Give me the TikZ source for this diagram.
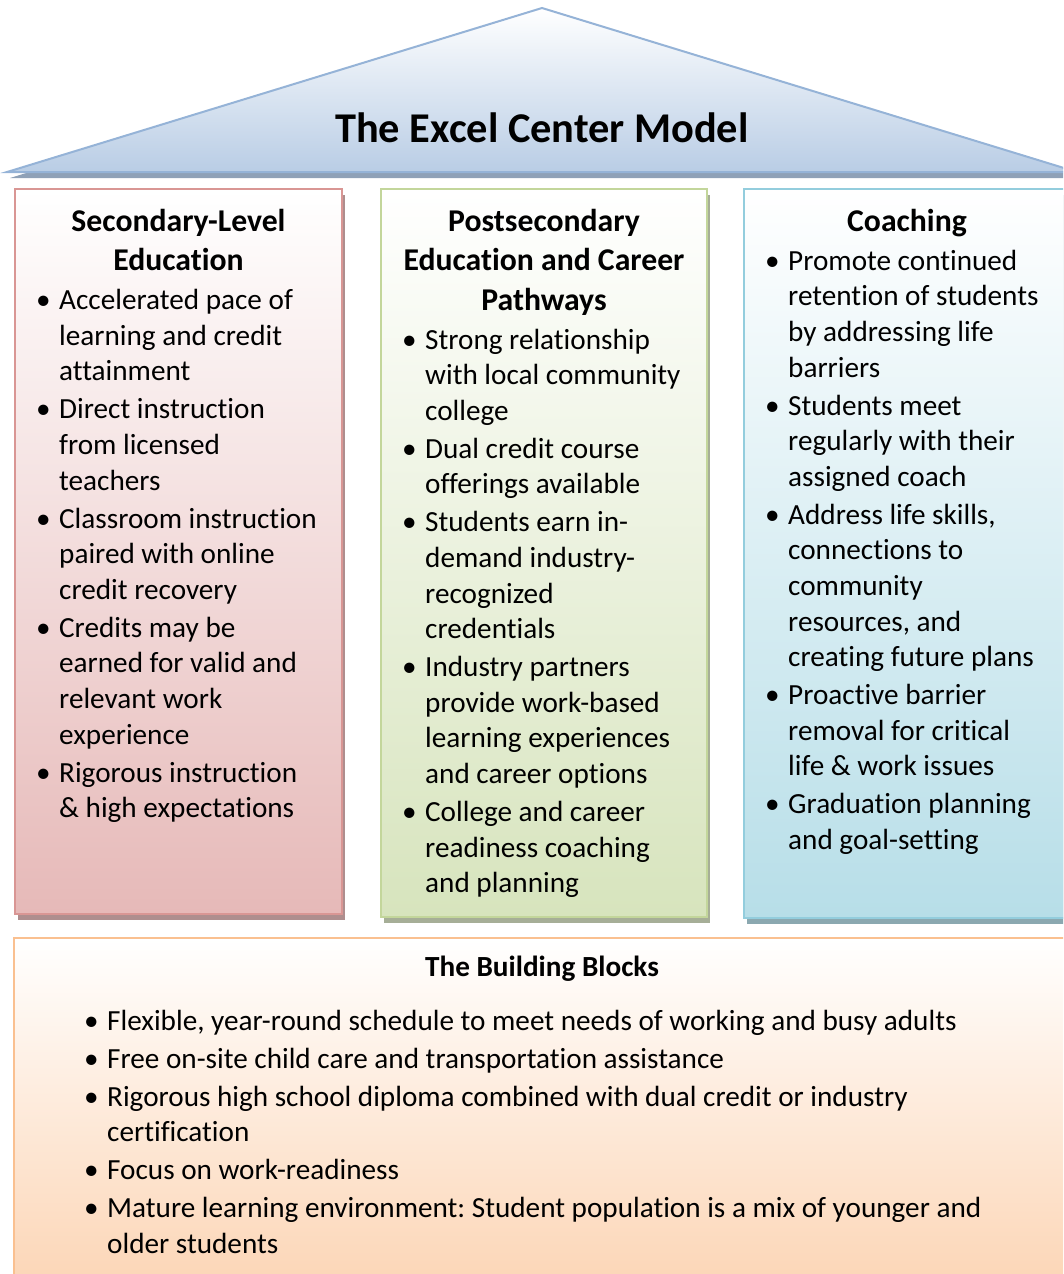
\documentclass[tikz,border=0pt]{standalone}
\usepackage{fontspec}
\setmainfont{Carlito}[Ligatures=NoCommon]
\usepackage{xcolor}
\usepackage{tikz}
\usetikzlibrary{positioning}
\usetikzlibrary{shadows}
\frenchspacing

\definecolor{roofblue}{HTML}{B9CDE5}
\definecolor{roofline}{HTML}{95B3D7}
\definecolor{roofshade}{HTML}{8FA1B7}
\definecolor{secfill}{HTML}{E6B9B8}
\definecolor{secline}{HTML}{D99694}
\definecolor{secshade}{HTML}{AE8E8E}
\definecolor{postfill}{HTML}{D7E4BD}
\definecolor{postline}{HTML}{C3D69B}
\definecolor{postshade}{HTML}{A6AE97}
\definecolor{coachfill}{HTML}{B7DEE8}
\definecolor{coachline}{HTML}{93CDDD}
\definecolor{coachshade}{HTML}{8BA8B0}
\definecolor{blockfill}{HTML}{FCD5B5}
\definecolor{blockline}{HTML}{FAC090}

\newcommand{\bul}[1]{\par\hangindent=23pt\hangafter=1\noindent
    \rule{0pt}{25pt}\makebox[23pt][l]{\textbullet}#1}

\begin{document}
\begin{tikzpicture}[x=1pt, y=-1pt,
        pillar/.style={rectangle, draw=#1line, line width=2pt,
            top color=white, bottom color=#1fill, inner sep=0pt,
            drop shadow={shadow xshift=3pt, shadow yshift=-6pt,
                fill=#1shade, opacity=1}},
        block/.style={rectangle, draw=blockline, line width=2pt,
            top color=white, bottom color=blockfill, inner sep=0pt},
        headtext/.style={align=center, inner sep=0pt,
            font=\bfseries\fontsize{31.7}{39.4}\selectfont},
        blockhead/.style={align=center, inner sep=0pt,
            font=\bfseries\fontsize{29.2}{35.6}\selectfont},
        listtext/.style={align=flush left, text width=#1, inner sep=0pt,
            font=\fontsize{29.2}{35.6}\selectfont}]

        \useasboundingbox (0,0) rectangle (1063,1274);
        \clip (0,0) rectangle (1063,1274);

        % roof
        \coordinate (roofL) at (7,172);
        \coordinate (roofT) at (542,8);
        \coordinate (roofR) at (1077,172);

        \fill[roofshade]
        ([xshift=3pt, yshift=-6pt]roofL) -- ([xshift=3pt, yshift=-6pt]roofT)
        -- ([xshift=3pt, yshift=-6pt]roofR) -- cycle;

        \path[draw=roofline, line width=2pt, top color=white, bottom color=roofblue]
        (roofL) -- (roofT) -- (roofR) -- cycle;

        \node[anchor=base, inner sep=0pt,
            font=\bfseries\fontsize{42.4}{50}\selectfont]
        (title) at (542,142) {The Excel Center Model};

        % pillars
        \node[pillar=sec, minimum width=327pt, minimum height=725pt]
        (sec) at (178.5,551.5) {};

        \node[pillar=post, minimum width=326pt, minimum height=728pt]
        (post) at (544,553) {};

        \node[pillar=coach, minimum width=326pt, minimum height=729pt]
        (coach) at (907,553.5) {};

        \node[headtext, below=13pt of sec.north] (secH)
        {\rule{0pt}{30pt}Secondary-Level\\Education};

        \node[headtext, below=13pt of post.north] (postH)
        {\rule{0pt}{30pt}Postsecondary\\Education and Career\\Pathways};

        \node[headtext, below=13pt of coach.north] (coachH)
        {\rule{0pt}{30pt}Coaching};

        \node[listtext=330pt, below right=83.4pt and 22pt of sec.north west] (secL)
        {\setlength{\parskip}{2.4pt}%
            \bul{Accelerated pace of\newline learning and credit\newline attainment}
            \bul{Direct instruction\newline from licensed\newline teachers}
            \bul{Classroom instruction\newline paired with online\newline credit recovery}
            \bul{Credits may be\newline earned for valid and\newline relevant work\newline experience}
            \bul{Rigorous instruction\newline \& high expectations}\par};

        \node[listtext=330pt, below right=122.8pt and 22pt of post.north west] (postL)
        {\setlength{\parskip}{2.4pt}%
            \bul{Strong relationship\newline with local community\newline college}
            \bul{Dual credit course\newline offerings available}
            \bul{Students earn in-\newline demand industry-\newline recognized\newline credentials}
            \bul{Industry partners\newline provide work-based\newline learning experiences\newline and career options}
            \bul{College and career\newline readiness coaching\newline and planning}\par};

        \node[listtext=330pt, below right=44pt and 22pt of coach.north west] (coachL)
        {\setlength{\parskip}{2.4pt}%
            \bul{Promote continued\newline retention of students\newline by addressing life\newline barriers}
            \bul{Students meet\newline regularly with their\newline assigned coach}
            \bul{Address life skills,\newline connections to\newline community\newline resources, and\newline creating future plans}
            \bul{Proactive barrier\newline removal for critical\newline life \& work issues}
            \bul{Graduation planning\newline and goal-setting}\par};

        % building blocks
        \node[block, minimum width=1056pt, minimum height=352pt]
        (blocks) at (542,1114) {};

        \node[blockhead, below=9pt of blocks.north] (blocksH)
        {\rule{0pt}{30pt}The Building Blocks};

        \node[listtext=1000pt, below right=55pt and 71pt of blocks.north west] (blocksL)
        {\setlength{\parskip}{2.4pt}%
            \bul{Flexible, year-round schedule to meet needs of working and busy adults}
            \bul{Free on-site child care and transportation assistance}
            \bul{Rigorous high school diploma combined with dual credit or industry\newline certification}
            \bul{Focus on work-readiness}
            \bul{Mature learning environment: Student population is a mix of younger and\newline older students}\par};
\end{tikzpicture}
\end{document}
